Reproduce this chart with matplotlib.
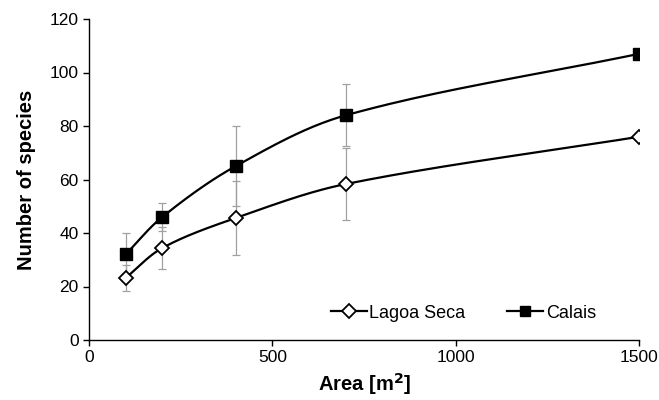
import numpy as np
import matplotlib.pyplot as plt

plt.rcParams['font.family'] = ['Liberation Sans', 'DejaVu Sans']

area = [100, 200, 400, 700, 1500]
lagoa = [23.2, 34.4, 45.6, 58.3, 76.0]
lagoa_err = [5.0, 8.0, 14.0, 13.4, 0]
calais = [32.0, 46.0, 65.0, 84.0, 107.0]
calais_err = [8.0, 5.2, 15.0, 11.6, 0]


def smooth(xs, ys, sx=550 / 1500, sy=321 / 120, n=40):
    # smoothed line like Excel: Bezier pieces, tangent from neighbours,
    # handle length scaled to each segment
    P = np.column_stack([np.asarray(xs) * sx, np.asarray(ys) * sy])
    out = []
    for i in range(len(P) - 1):
        p0 = P[max(i - 1, 0)]
        p1, p2 = P[i], P[i + 1]
        p3 = P[min(i + 2, len(P) - 1)]
        L = np.linalg.norm(p2 - p1)
        d1 = (p2 - p0) / np.linalg.norm(p2 - p0)
        d2 = (p3 - p1) / np.linalg.norm(p3 - p1)
        c1 = p1 + d1 * L / 3
        c2 = p2 - d2 * L / 3
        t = np.linspace(0, 1, n)[:, None]
        seg = ((1 - t) ** 3) * p1 + 3 * ((1 - t) ** 2) * t * c1 + 3 * (1 - t) * t ** 2 * c2 + t ** 3 * p2
        out.append(seg)
    out = np.vstack(out)
    return out[:, 0] / sx, out[:, 1] / sy


fig = plt.figure(figsize=(6.59, 4), dpi=100)
ax = fig.add_axes([0.135, 0.15, 0.835, 0.8025])

ax.errorbar(area, lagoa, yerr=lagoa_err, fmt='none', ecolor='#a0a0a0', elinewidth=0.9, capsize=3, capthick=0.9)
ax.errorbar(area, calais, yerr=calais_err, fmt='none', ecolor='#a0a0a0', elinewidth=0.9, capsize=3, capthick=0.9)

x1, y1 = smooth(area, lagoa)
x2, y2 = smooth(area, calais)
ax.plot(x1, y1, color='black', lw=1.6, zorder=3)
ax.plot(x2, y2, color='black', lw=1.6, zorder=3)
ax.plot(area, lagoa, ls='none', marker='D', ms=7, mfc='white', mec='black', mew=1.3, zorder=4)
ax.plot(area, calais, ls='none', marker='s', ms=8, mfc='black', mec='black', zorder=4)

h1, = ax.plot([], [], color='black', lw=1.6, marker='D', ms=7, mfc='white', mec='black', mew=1.3, label='Lagoa Seca')
h2, = ax.plot([], [], color='black', lw=1.6, marker='s', ms=7, mfc='black', mec='black', label='Calais')
ax.legend(handles=[h1, h2], loc='center', bbox_to_anchor=(0.703, 0.2175), bbox_transform=fig.transFigure,
          ncol=2, frameon=False, fontsize=13, handlelength=2.0, handletextpad=0.15, columnspacing=2.3,
          borderpad=0, borderaxespad=0)

ax.set_xlim(0, 1500)
ax.set_ylim(0, 120)
ax.set_xticks([0, 500, 1000, 1500])
ax.set_yticks(range(0, 121, 20))
ax.tick_params(labelsize=12.5, direction='out', length=4, width=1)
ax.spines['top'].set_visible(False)
ax.spines['right'].set_visible(False)
ax.spines['left'].set_linewidth(1)
ax.spines['bottom'].set_linewidth(1)
ax.set_xlabel('Area [m$^\\mathbf{2}$]', fontsize=14.5, fontweight='bold', labelpad=4)
ax.set_ylabel('Number of species', fontsize=14.5, fontweight='bold', labelpad=10)

fig.savefig('out.png', dpi=100)
